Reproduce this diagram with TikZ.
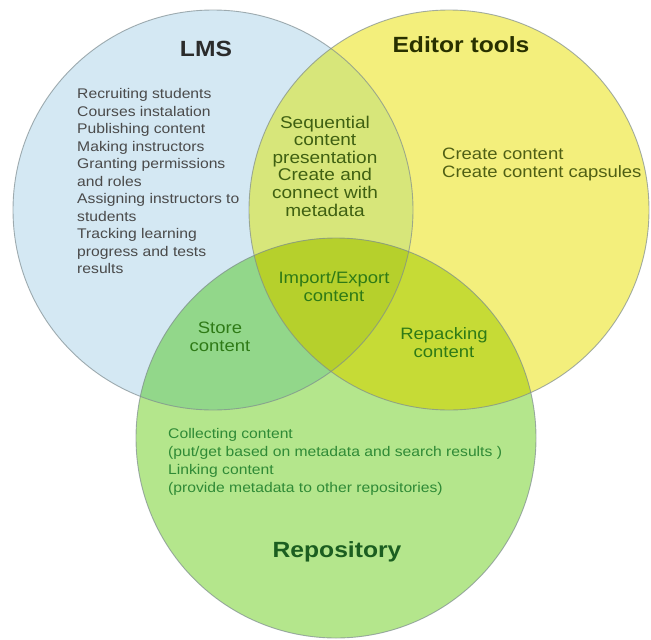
\documentclass[tikz,border=0pt]{standalone}
\usepackage{fontspec}
\setmainfont{Liberation Sans}

\definecolor{lmsfill}{HTML}{D4E8F3}
\definecolor{edfill}{HTML}{F3EF7C}
\definecolor{repfill}{HTML}{B4E68C}
\definecolor{lmsedfill}{HTML}{D7E67A}
\definecolor{lmsrepfill}{HTML}{92D78A}
\definecolor{edrepfill}{HTML}{C6DB36}
\definecolor{allfill}{HTML}{B6D02C}
\definecolor{rimgray}{HTML}{7E8C90}
\definecolor{lmsink}{HTML}{2B2B2B}
\definecolor{listgray}{HTML}{4A4A4A}
\definecolor{edink}{HTML}{283000}
\definecolor{oliveink}{HTML}{4F5F14}
\definecolor{seqink}{HTML}{3F6012}
\definecolor{midgreen}{HTML}{2E7A16}
\definecolor{colgreen}{HTML}{2F8A36}
\definecolor{repink}{HTML}{1B5E20}

\def\SetRadius{200pt}

\begin{document}
\begin{tikzpicture}[x=1pt,y=-1pt]
  \tikzset{TitleStyle/.style = {
    font          = \fontsize{22}{26}\selectfont\bfseries,
    inner sep     = 0pt,
    xscale        = 1.12
    }
  }
  \tikzset{ListStyle/.style = {
    font          = \fontsize{14}{17.5}\selectfont,
    align         = left,
    anchor        = west,
    inner sep     = 0pt,
    xscale        = 1.12
    }
  }
  \tikzset{ZoneStyle/.style = {
    font          = \fontsize{16.5}{18}\selectfont,
    align         = center,
    inner sep     = 0pt,
    xscale        = 1.12
    }
  }
  \tikzset{RimStyle/.style = {
    draw          = rimgray,
    draw opacity  = 0.7,
    line width    = 0.9pt
    }
  }

  \fill[white] (0,0) rectangle (651,640);
  \useasboundingbox (0,0) rectangle (651,640);

  \coordinate (LMS) at (213, 210);
  \coordinate (ED) at (449, 210);
  \coordinate (REP) at (336, 438);

  % the three sets
  \fill[lmsfill] (LMS) circle[radius=\SetRadius];
  \fill[edfill] (ED) circle[radius=\SetRadius];
  \fill[repfill] (REP) circle[radius=\SetRadius];
  \begin{scope}
    \clip (LMS) circle[radius=\SetRadius];
    \fill[lmsedfill] (ED) circle[radius=\SetRadius];
    \fill[lmsrepfill] (REP) circle[radius=\SetRadius];
  \end{scope}
  \begin{scope}
    \clip (ED) circle[radius=\SetRadius];
    \fill[edrepfill] (REP) circle[radius=\SetRadius];
    \clip (LMS) circle[radius=\SetRadius];
    \fill[allfill] (REP) circle[radius=\SetRadius];
  \end{scope}
  \draw[RimStyle] (LMS) circle[radius=\SetRadius];
  \draw[RimStyle] (ED) circle[radius=\SetRadius];
  \draw[RimStyle] (REP) circle[radius=\SetRadius];

  % titles
  \node[TitleStyle, text=lmsink](LMSTitle) at (206, 49) {LMS};
  \node[TitleStyle, text=edink](EDTitle) at (461, 45) {Editor tools};
  \node[TitleStyle, text=repink](REPTitle) at (337, 552) {Repository};

  % texts
  \node[ListStyle, text=listgray](LMSList) at (77, 181) {Recruiting students\\Courses instalation\\Publishing content\\Making instructors\\Granting permissions\\and roles\\Assigning instructors to\\students\\Tracking learning\\progress and tests\\results};
  \node[ZoneStyle, text=seqink, font=\fontsize{17}{17.6}\selectfont](SeqText) at (325, 166) {Sequential\\content\\presentation\\Create and\\connect with\\metadata};
  \node[ZoneStyle, text=oliveink, align=left, anchor=west](EDList) at (442, 164) {Create content\\Create content capsules};
  \node[ZoneStyle, text=midgreen](ImpText) at (334, 287) {Import/Export\\content};
  \node[ZoneStyle, text=midgreen](StoreText) at (220, 337) {Store\\content};
  \node[ZoneStyle, text=midgreen](RepackText) at (444, 343) {Repacking\\content};
  \node[ListStyle, text=colgreen, font=\fontsize{14}{18}\selectfont](REPList) at (168, 462) {Collecting content\\(put/get based on metadata and search results )\\Linking content\\(provide metadata to other repositories)};

\end{tikzpicture}
\end{document}
